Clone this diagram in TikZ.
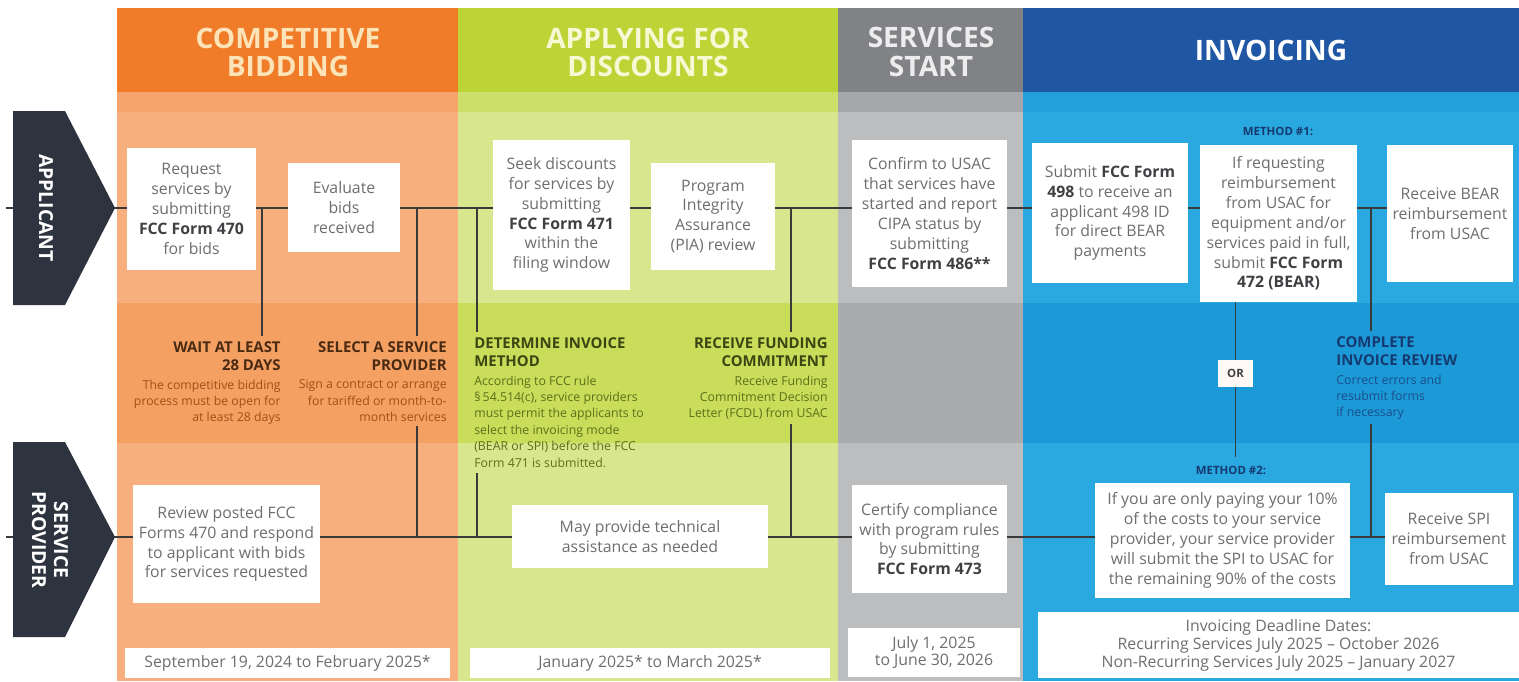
\documentclass[tikz,border=0pt]{standalone}
\usepackage{fontspec}
\setmainfont{Open Sans}
\usetikzlibrary{positioning}

\definecolor{orHead}{HTML}{F07C2A}
\definecolor{orStripe}{HTML}{F6A46C}
\definecolor{orBody}{HTML}{F8AF7E}
\definecolor{orMid}{HTML}{F5A063}
\definecolor{grHead}{HTML}{BDD437}
\definecolor{grStripe}{HTML}{CCDF68}
\definecolor{grBody}{HTML}{D8E68E}
\definecolor{grMid}{HTML}{C9DD5A}
\definecolor{gyHead}{HTML}{808285}
\definecolor{gyStripe}{HTML}{A5A7AA}
\definecolor{gyBody}{HTML}{BBBDBF}
\definecolor{gyMid}{HTML}{A9ABAE}
\definecolor{blHead}{HTML}{1F57A5}
\definecolor{blStripe}{HTML}{22A0DC}
\definecolor{blBody}{HTML}{2AA8E0}
\definecolor{blMid}{HTML}{1C9AD8}
\definecolor{txtgray}{HTML}{6D6E71}
\definecolor{txtdark}{HTML}{3F4043}
\definecolor{lineclr}{HTML}{3A3A3A}
\definecolor{laneclr}{HTML}{2E3340}
\definecolor{orText}{HTML}{FCE4B8}
\definecolor{grText}{HTML}{F5F9D4}
\definecolor{orDark}{HTML}{4A2B12}
\definecolor{orNote}{HTML}{A24E14}
\definecolor{grDark}{HTML}{3D4512}
\definecolor{grNote}{HTML}{5E6E1A}
\definecolor{blDark}{HTML}{163A70}
\definecolor{blNote}{HTML}{1A4E8A}

\newcommand{\formb}{\bfseries\color{txtdark}}

\begin{document}
\begin{tikzpicture}[x = 0.02cm, y = -0.02cm, % one unit = one pixel, y down
                line join = round,
                wh/.style 2 args = {minimum width = #1*0.02cm,
                minimum height = #2*0.02cm} % box size in pixels
            ]

            \tikzstyle{box}=[fill = white, align = center, text = txtgray,
            inner sep = 1pt, font = \fontsize{9}{11.3}\selectfont]
            \tikzstyle{datebox}=[box, font = \fontsize{9}{10.2}\selectfont]
            \tikzstyle{headtext}=[align = center,
            font = \fontsize{16}{16}\selectfont\bfseries]
            \tikzstyle{midhead}=[inner sep = 0pt,
            font = \fontsize{8.5}{10.2}\selectfont\bfseries]
            \tikzstyle{midnote}=[inner sep = 0pt,
            font = \fontsize{7}{9.3}\selectfont]
            \tikzstyle{methodlbl}=[inner sep = 0pt, text = blDark,
            font = \fontsize{6.5}{8}\selectfont\bfseries]
            \tikzstyle{lanemark}=[text = white, align = center, rotate = -90,
            font = \fontsize{11}{12.5}\selectfont\bfseries]
            \tikzstyle{lane}=[draw = lineclr, line width = 1.6pt]
            \tikzstyle{drop}=[draw = lineclr, line width = 1.1pt]

            \useasboundingbox (0,0) rectangle (1519,681);

            % columns
            \foreach \xa/\xb/\col in {117/458/or, 458/838/gr, 838/1023/gy,
            1023/1519/bl} {
                \fill[\col Body] (\xa,92) rectangle (\xb,681);
                \fill[\col Stripe] (\xa,92) rectangle (\xb,112);
                \fill[\col Mid] (\xa,303) rectangle (\xb,443);
                \fill[\col Head] (\xa,8) rectangle (\xb,92);
            }

            \node[headtext, text = orText] (hbid) at (288,52) {COMPETITIVE\\BIDDING};
            \node[headtext, text = grText] (hdisc) at (648,52) {APPLYING FOR\\DISCOUNTS};
            \node[headtext, text = white!93!black] (hstart) at (931,52) {SERVICES\\START};
            \node[headtext, text = white] (hinv) at (1271,50) {INVOICING};

            % lane markers
            \coordinate (astub) at (6,208); \coordinate (atip) at (115,208);
            \coordinate (sstub) at (6,537); \coordinate (stip) at (115,537);
            \draw[lane] (astub) -- (atip); \draw[lane] (sstub) -- (stip);
            \fill[laneclr] (13,111) -- (65,111) -- (atip) -- (65,305) -- (13,305) -- cycle;
            \fill[laneclr] (13,442) -- (65,442) -- (stip) -- (65,637) -- (13,637) -- cycle;
            \node[lanemark] (applicant) at (46,208) {APPLICANT};
            \node[lanemark] (provider) at (50,540) {SERVICE\\PROVIDER};

            % applicant row
            \node[box, wh = {129}{122}] (req) at (191.5,209)
            {Request\\services by\\submitting\\{\formb FCC Form 470}\\for bids};
            \node[box, wh = {112}{89}] (eval) at (344,207.5)
            {Evaluate\\bids\\received};
            \node[box, wh = {137}{150}] (seek) at (561.5,215)
            {Seek discounts\\for services by\\submitting\\{\formb FCC Form 471}\\within the\\filing window};
            \node[box, wh = {124}{107}] (pia) at (713,216.5)
            {Program\\Integrity\\Assurance\\(PIA) review};
            \node[box, wh = {155}{147}] (confirm) at (929.5,213.5)
            {Confirm to USAC\\that services have\\started and report\\CIPA status by\\submitting\\{\formb FCC Form 486**}};
            \node[box, wh = {156}{140}] (form498) at (1110,213)
            {Submit {\formb FCC Form}\\{\formb 498} to receive an\\applicant 498 ID\\for direct BEAR\\payments};
            \node[box, wh = {157}{157}] (bear) at (1278.5,223.5)
            {If requesting\\reimbursement\\from USAC for\\equipment and/or\\services paid in full,\\submit {\formb FCC Form}\\{\formb 472 (BEAR)}};
            \node[box, wh = {126}{137}] (bearpay) at (1450,213.5)
            {Receive BEAR\\reimbursement\\from USAC};
            \node[methodlbl] (m1) at (1278,131) {METHOD \#1:};

            % service provider row
            \node[box, wh = {187}{118}] (review) at (226.5,544)
            {Review posted FCC\\Forms 470 and respond\\to applicant with bids\\for services requested};
            \node[box, wh = {256}{63}] (tech) at (640,536.5)
            {May provide technical\\assistance as needed};
            \node[box, wh = {155}{108}] (certify) at (929.5,539)
            {Certify compliance\\with program rules\\by submitting\\{\formb FCC Form 473}};
            \node[box, wh = {255}{115}] (spi) at (1222.5,540.5)
            {If you are only paying your 10\%\\of the costs to your service\\provider, your service provider\\will submit the SPI to USAC for\\the remaining 90\% of the costs};
            \node[box, wh = {128}{92}] (spipay) at (1449,539)
            {Receive SPI\\reimbursement\\from USAC};
            \node[methodlbl] (m2) at (1231,470) {METHOD \#2:};

            % dates
            \node[datebox, wh = {325}{30}] (d1) at (287.5,663)
            {September 19, 2024 to February 2025*};
            \node[datebox, wh = {360}{30}] (d2) at (650,663)
            {January 2025* to March 2025*};
            \node[datebox, wh = {172}{49}] (d3) at (934,652.5)
            {July 1, 2025\\to June 30, 2026};
            \node[datebox, wh = {481}{66}] (d4) at (1278.5,645)
            {Invoicing Deadline Dates:\\Recurring Services July 2025 -- October 2026\\Non-Recurring Services July 2025 -- January 2027};

            % middle band
            \node[midhead, align = right, text = orDark, anchor = north east] (wait)
            at (281,341) {WAIT AT LEAST\\28 DAYS};
            \node[midnote, align = right, text = orNote, below left = 1.8mm and 0mm of wait.south east]
            (waitnote) {The competitive bidding\\process must be open for\\at least 28 days};
            \node[midhead, align = right, text = orDark, anchor = north east] (select)
            at (447,341) {SELECT A SERVICE\\PROVIDER};
            \node[midnote, align = right, text = orNote, below left = 1.8mm and 0mm of select.south east]
            (selnote) {Sign a contract or arrange\\for tariffed or month-to-\\month services};
            \node[midhead, align = left, text = grDark, anchor = north west] (method)
            at (474,337) {DETERMINE INVOICE\\METHOD};
            \node[midnote, align = left, text = grNote, below right = 1.8mm and 0mm of method.south west]
            (methnote) {According to FCC rule\\\S\,54.514(c), service providers\\must permit the applicants to\\select the invoicing mode\\(BEAR or SPI) before the FCC\\Form 471 is submitted.};
            \node[midhead, align = right, text = grDark, anchor = north east] (funding)
            at (828,337) {RECEIVE FUNDING\\COMMITMENT};
            \node[midnote, align = right, text = grNote, below left = 1.8mm and 0mm of funding.south east]
            (fundnote) {Receive Funding\\Commitment Decision\\Letter (FCDL) from USAC};
            \node[midhead, align = left, text = blDark, anchor = north west] (invrev)
            at (1336,336) {COMPLETE\\INVOICE REVIEW};
            \node[midnote, align = left, text = blNote, below right = 1.8mm and 0mm of invrev.south west]
            (revnote) {Correct errors and\\resubmit forms\\if necessary};
            \node[fill = white!96!orange, inner sep = 0pt, wh = {35}{27}, text = txtdark,
            font = \fontsize{6.5}{8}\selectfont\bfseries] (or) at (1235.5,373.5) {OR};

            % lanes
            \draw[lane] (atip) -- (req.west |- atip); \draw[lane] (req.east |- atip) -- (eval.west |- atip);
            \draw[lane] (eval.east |- atip) -- (seek.west |- atip); \draw[lane] (seek.east |- atip) -- (pia.west |- atip);
            \draw[lane] (pia.east |- atip) -- (confirm.west |- atip); \draw[lane] (confirm.east |- atip) -- (form498.west |- atip);
            \draw[lane] (form498.east |- atip) -- (bear.west |- atip); \draw[lane] (bear.east |- atip) -- (bearpay.west |- atip);
            \draw[lane] (stip) -- (review.west |- stip); \draw[lane] (review.east |- stip) -- (tech.west |- stip);
            \draw[lane] (tech.east |- stip) -- (certify.west |- stip); \draw[lane] (certify.east |- stip) -- (spi.west |- stip);
            \draw[lane] (spi.east |- stip) -- (spipay.west |- stip);

            % drops to the middle band
            \coordinate (j1) at (262,208); \coordinate (j2) at (417,208);
            \coordinate (j3) at (477,208); \coordinate (j4) at (791,208);
            \coordinate (j5) at (1371,208);
            \draw[drop, shorten >= 3pt] (j1) -- (j1 |- wait.north);
            \draw[drop, shorten >= 3pt] (j2) -- (j2 |- select.north);
            \draw[drop, shorten <= 2pt] (j2 |- selnote.south) -- (j2 |- stip);
            \draw[drop, shorten >= 3pt] (j3) -- (j3 |- method.north);
            \draw[drop, shorten <= 3pt] (j3 |- methnote.south) -- (j3 |- stip);
            \draw[drop, shorten >= 3pt] (j4) -- (j4 |- funding.north);
            \draw[drop, shorten <= 2pt] (j4 |- fundnote.south) -- (j4 |- stip);
            \draw[drop, shorten >= 3pt] (j5) -- (j5 |- invrev.north);
            \draw[drop, shorten <= 2pt] (j5 |- revnote.south) -- (j5 |- stip);
            \draw[drop] (bear.south -| or) -- (or.north);
            \draw[drop, shorten >= 5pt] (or.south) -- (or |- m2.north);
\end{tikzpicture}
\end{document}
